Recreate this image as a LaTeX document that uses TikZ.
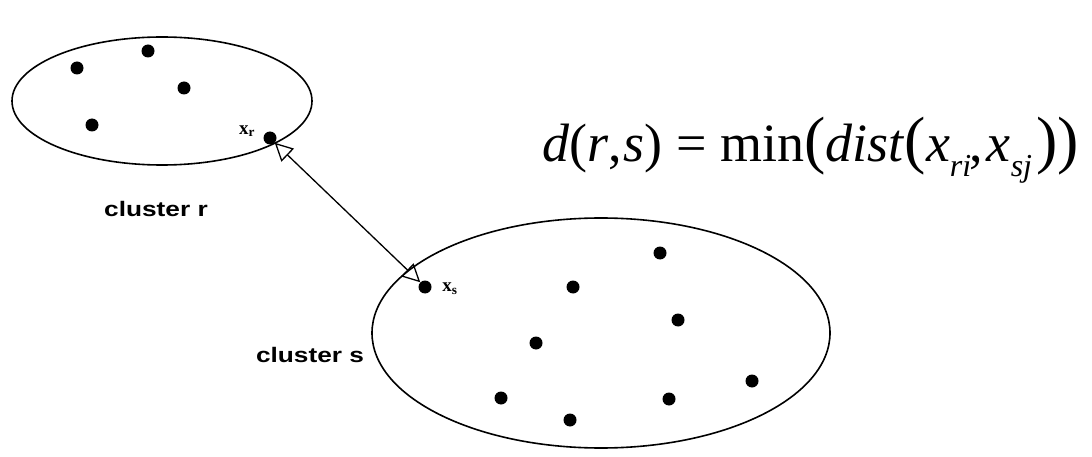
\documentclass[tikz,border=0pt]{standalone}
\usepackage{fontspec}
\setmainfont{Liberation Serif}
\setsansfont{Liberation Sans}
\usetikzlibrary{arrows.meta}
\newcommand{\fsub}[1]{\raisebox{-15pt}{\fontsize{32}{32}\selectfont\textit{#1}}}
\newcommand{\bigp}[1]{{\fontsize{64}{64}\selectfont#1}}
\begin{document}
\begin{tikzpicture}[x=1pt,y=-1pt,
  cluster/.style={draw,line width=1.6pt},
  pt/.style={circle,fill=black,inner sep=0pt,minimum size=13pt},
  lbl/.style={font=\sffamily\bfseries\fontsize{21}{21}\selectfont,inner sep=0pt},
  sub/.style={font=\bfseries\fontsize{19}{19}\selectfont,inner sep=0pt}]
\useasboundingbox (0,0) rectangle (1092,457);
% clusters
\draw[cluster] (162,101) ellipse [x radius=150, y radius=64];
\draw[cluster] (601,333) ellipse [x radius=229, y radius=115];
% points in cluster r
\node[pt] (r1) at (77,68) {};
\node[pt] (r2) at (148,51) {};
\node[pt] (r3) at (184,88) {};
\node[pt] (r4) at (92,125) {};
\node[pt] (xr) at (270,138) {};
% points in cluster s
\node[pt] (s1) at (660,253) {};
\node[pt] (s2) at (573,287) {};
\node[pt] (s3) at (678,320) {};
\node[pt] (s4) at (536,343) {};
\node[pt] (s5) at (752,381) {};
\node[pt] (s6) at (501,398) {};
\node[pt] (s7) at (570,420) {};
\node[pt] (s8) at (669,399) {};
\node[pt] (xs) at (425,287) {};
% labels
\node[sub] (lxr) at (247,131) {x\textsubscript{r}};
\node[sub] (lxs) at (450,289) {x\textsubscript{s}};
\node[lbl] (cr) at (156,209) {\scalebox{1.25}[1]{cluster r}};
\node[lbl] (cs) at (310,355) {\scalebox{1.25}[1]{cluster s}};
% connector
\draw[line width=1.3pt,{Triangle[open,length=18pt,width=18pt]}-{Triangle[open,length=18pt,width=18pt]}]
  (xr.south east) -- (xs.north west);
% formula
\node[anchor=base west,inner sep=0pt,font=\fontsize{54}{54}\selectfont] (f) at (542,162)
  {\textit{d}(\textit{r},\hspace{2pt}\textit{s}) = min\bigp{(}\textit{dist}\bigp{(}\textit{x}\fsub{ri}\hspace{-2pt},\hspace{4pt}\textit{x}\fsub{sj}\hspace{4pt}\bigp{))}};
\end{tikzpicture}
\end{document}
